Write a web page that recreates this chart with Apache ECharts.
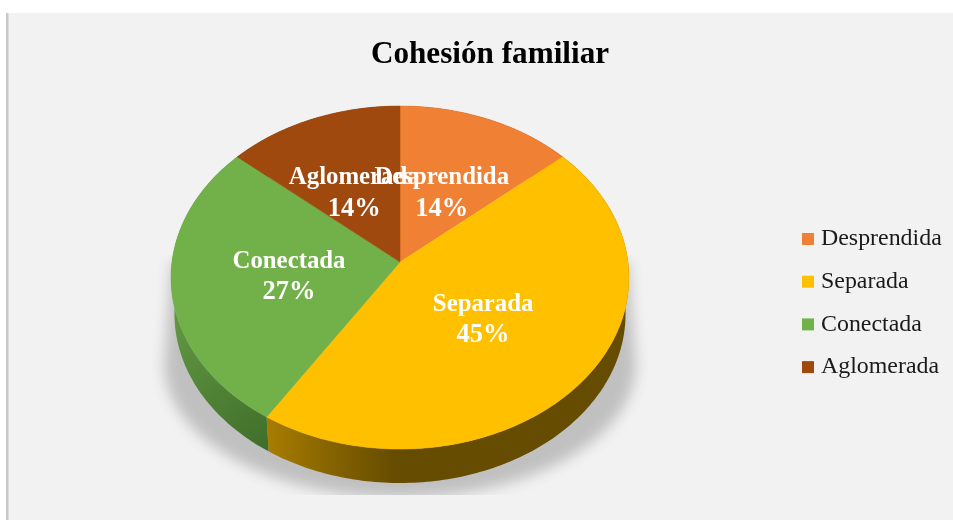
<!DOCTYPE html>
<html><head><meta charset="utf-8">
<style>html,body{margin:0;padding:0;background:#fff}#c{width:953px;height:520px}</style>
<script src="https://cdn.jsdelivr.net/npm/echarts@6/dist/echarts.min.js"></script>
</head><body><div id="c"></div>
<script>
const title = 'Cohesión familiar';
const categories = ['Desprendida', 'Separada', 'Conectada', 'Aglomerada'];
const shares = [13.64, 45.45, 27.27, 13.64];
const topColors = ['#f08033', '#ffc000', '#72b04a', '#a0490e'];
const FONT = '"Liberation Serif", "Times New Roman", serif';

// projected disc: apex, half axes and perspective of the 3D pie
const cx = 400, cy = 262, ax = 228, ay = 170.1, k = 0.0905;
const depth = 36.8, shrink = 0.985;
const total = shares.reduce((a, b) => a + b, 0);
const starts = shares.map((_, i) => shares.slice(0, i).reduce((a, b) => a + b, 0) / total * 2 * Math.PI);
const ends = shares.map((_, i) => shares.slice(0, i + 1).reduce((a, b) => a + b, 0) / total * 2 * Math.PI);

function proj(theta, r) {
  const u = r * Math.sin(theta), v = r * Math.cos(theta), w = 1 + k * v;
  return [cx + ax * u / w, cy - ay * v / w];
}
function lower(p) { return [cx + (p[0] - cx) * shrink, cy + (p[1] - cy) * shrink + depth]; }
function rim(a, b) {
  const out = [], n = Math.max(2, Math.ceil((b - a) / (Math.PI / 180)));
  for (let i = 0; i <= n; i++) out.push(proj(a + (b - a) * i / n, 1));
  return out;
}
const wallFills = [
  '#7a4020',
  { type: 'linear', x: 268, y: 0, x2: 395, y2: 0, global: true,
    colorStops: [{ offset: 0, color: '#a87c00' }, { offset: 0.5, color: '#856300' }, { offset: 1, color: '#654c00' }] },
  { type: 'linear', x: 178, y: 330, x2: 268, y2: 450, global: true,
    colorStops: [{ offset: 0, color: '#5f9440' }, { offset: 1, color: '#3f6e2a' }] },
  '#6b3209'
];

function sliceSeries(name, i) {
  return {
    type: 'custom', name, coordinateSystem: 'none', data: [shares[i]], silent: true,
    itemStyle: { color: topColors[i] }, z: 5,
    renderItem() {
      const mid = (starts[i] + ends[i]) / 2, lp = proj(mid, 0.48);
      return { type: 'group', children: [
        { type: 'polygon', z2: 10, shape: { points: [[cx, cy]].concat(rim(starts[i], ends[i])) },
          style: { fill: topColors[i], stroke: topColors[i], lineWidth: 0.5 } },
        { type: 'text', z2: 100, x: lp[0] - 2, y: lp[1] + 3,
          style: { text: '{n|' + name + '}\n{p|' + Math.round(shares[i]) + '%}', fill: '#ffffff', align: 'center', verticalAlign: 'middle',
                   rich: { n: { font: 'bold 24.8px ' + FONT, fill: '#ffffff', lineHeight: 31 },
                           p: { font: 'bold 26.5px ' + FONT, fill: '#ffffff', lineHeight: 31 } } } }
      ] };
    }
  };
}

const option = {
  animation: false,
  backgroundColor: '#ffffff',
  graphic: [
    { type: 'rect', z: 0, shape: { x: 8, y: 13, width: 945, height: 507 }, style: { fill: '#f2f2f2' } },
    { type: 'rect', z: 0, shape: { x: 6, y: 13, width: 2.5, height: 507 }, style: { fill: '#c9c9c9' } }
  ],
  title: { text: title, left: 485, top: 34, textAlign: 'center',
    textStyle: { fontFamily: FONT, fontWeight: 'bold', fontSize: 31.2, color: '#000000' } },
  legend: { data: categories, orient: 'vertical', left: 797, top: 221, icon: 'rect', itemWidth: 12, itemHeight: 12,
    itemGap: 16.7, selectedMode: false, textStyle: { fontFamily: FONT, fontSize: 23.9, color: '#1a1a1a', padding: [0, 0, 0, 2], lineHeight: 26 } },
  series: [
    { type: 'custom', coordinateSystem: 'none', data: [total], silent: true, z: 2,
      renderItem() {
        // soft cast shadow: the shape sits off-canvas so only its blurred shadow lands on the plot
        const off = 2000, arc = [];
        for (let d = 90; d <= 270; d += 2) {
          const p = proj(d * Math.PI / 180, 1);
          arc.push([cx + (p[0] - cx) * 1.03 - off, cy + (p[1] - cy) * 0.78 + 90]);
        }
        const pts = [[628 - off, 262]].concat(arc, [[172 - off, 262]]);
        return { type: 'polygon', shape: { points: pts },
          clipPath: { type: 'rect', shape: { x: -off, y: 255, width: off + 650, height: 240 } },
          style: { fill: '#c0c0c0', shadowBlur: 14, shadowColor: '#c0c0c0', shadowOffsetX: off } };
      } },
    { type: 'custom', coordinateSystem: 'none', data: shares, silent: true, z: 3,
      renderItem(params) {
        const i = params.dataIndex;
        const top = rim(starts[i], ends[i]);
        return { type: 'polygon', shape: { points: top.concat(top.map(lower).reverse()) },
          style: { fill: wallFills[i] } };
      } }
  ].concat(categories.map(sliceSeries))
};
const chart = echarts.init(document.getElementById('c'), null, { renderer: 'canvas' });
chart.setOption(option);
</script></body></html>
